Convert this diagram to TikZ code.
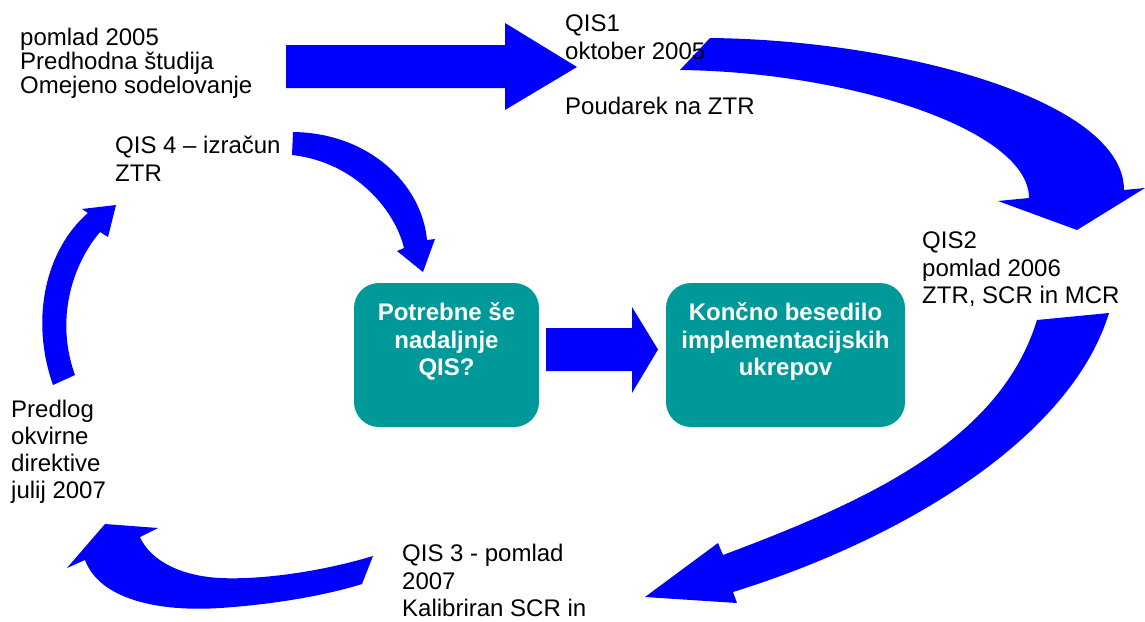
\documentclass[tikz,border=0pt]{standalone}
\usepackage{fontspec}
\setmainfont{Liberation Sans}
\definecolor{arrowblue}{RGB}{0,0,255}
\definecolor{boxteal}{RGB}{0,153,153}
\begin{document}
\begin{tikzpicture}[x=1pt,y=-1pt,
  flow/.style={fill=arrowblue, draw=none},
  note/.style={anchor=north west, inner sep=0pt, align=left,
    font=\fontsize{24}{27.5}\selectfont},
  box/.style={fill=boxteal, draw=none, rounded corners=25pt, inner sep=0pt,
    minimum height=144pt},
  boxtext/.style={anchor=north, inner sep=0pt, align=center, text=white,
    font=\bfseries\fontsize{24}{27.5}\selectfont}]
\useasboundingbox (0,0) rectangle (1145,621);

% straight block arrow: spring 2005 -> QIS1
\fill[flow] (286,45) -- (505,45) -- (505,23) -- (577,67) -- (505,110)
  -- (505,88) -- (286,88) -- cycle;

% curved arrow QIS1 -> QIS2
\fill[flow] (710,38) .. controls (900,40) and (1124,100) .. (1124,190)
  -- (1145,188) -- (1077,230) -- (998,201) -- (1029,198)
  .. controls (1029,130) and (850,72) .. (680,70) -- cycle;

% curved arrow QIS2 -> QIS3
\fill[flow] (1037,320) -- (1109,313) .. controls (1070,440) and (900,540) .. (733,592)
  -- (737,603) -- (645,597) -- (718,543) -- (723,555)
  .. controls (870,500) and (1000,440) .. (1037,320) -- cycle;

% curved arrow QIS3 -> proposal
\fill[flow] (373,556) .. controls (320,572) and (260,580) .. (220,578)
  .. controls (180,576) and (150,560) .. (140,537)
  -- (158,528) -- (105,524) -- (67,568) -- (85,560)
  .. controls (100,600) and (160,612) .. (220,608)
  .. controls (280,604) and (330,594) .. (362,584) -- cycle;

% curved arrow proposal -> QIS4
\fill[flow] (53,385) .. controls (30,320) and (45,250) .. (88,213)
  -- (82,209) -- (116,205) -- (108,237) -- (100,232)
  .. controls (72,265) and (55,320) .. (75,375) -- cycle;

% curved arrow QIS4 -> further QIS
\fill[flow] (293,132) .. controls (370,133) and (422,185) .. (427,240)
  -- (435,239) -- (423,272) -- (397,251) -- (404,248)
  .. controls (395,210) and (355,162) .. (292,155) -- cycle;

% decision boxes
\node[box, minimum width=185pt] (further) at (446.5,355) {};
\node[box, minimum width=239pt] (final) at (785.5,355) {};
\node[boxtext] (furthertxt) at ([yshift=-20pt]further.north)
  {Potrebne še\\nadaljnje\\QIS?};
\node[boxtext] (finaltxt) at ([yshift=-20pt]final.north)
  {Končno besedilo\\implementacijskih\\ukrepov};

% block arrow between the boxes
\fill[flow] (546,328) -- (632,328) -- (632,307) -- (658,349.5) -- (632,393)
  -- (632,371) -- (546,371) -- cycle;

% stage labels
\node[note, font=\fontsize{24}{24}\selectfont] (pilot) at (20,27.5)
  {pomlad 2005\\Predhodna študija\\Omejeno sodelovanje};
\node[note] (qisone) at (565,15)
  {QIS1\\oktober 2005\\[27.5pt]Poudarek na ZTR};
\node[note] (qistwo) at (922,232)
  {QIS2\\pomlad 2006\\ZTR, SCR in MCR};
\node[note] (qisthree) at (402,544)
  {QIS 3 - pomlad\\2007\\Kalibriran SCR in};
\node[note, font=\fontsize{24}{27}\selectfont] (proposal) at (11,399.5)
  {Predlog\\okvirne\\direktive\\julij 2007};
\node[note] (qisfour) at (115,136)
  {QIS 4 – izračun\\ZTR};
\end{tikzpicture}
\end{document}
